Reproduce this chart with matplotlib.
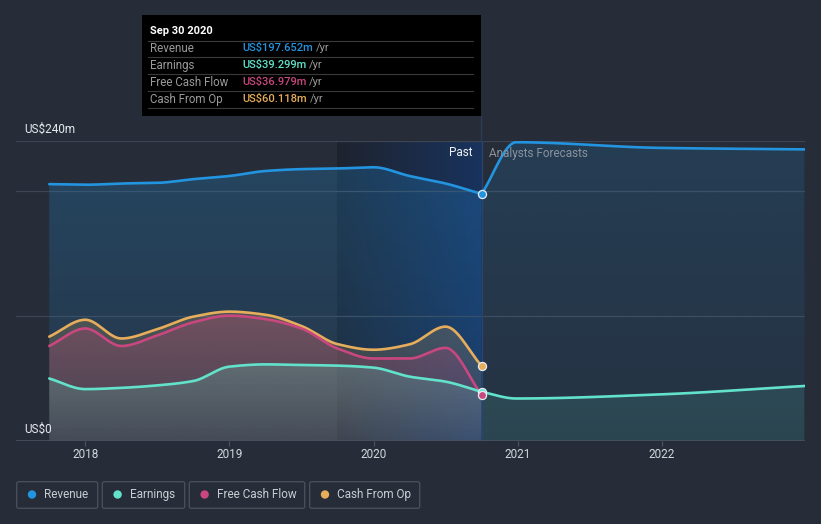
import numpy as np
import matplotlib
matplotlib.use('Agg')
import matplotlib.pyplot as plt
from matplotlib.patches import Polygon, Rectangle, FancyBboxPatch, Ellipse
from matplotlib.lines import Line2D
from matplotlib.colors import to_rgb

plt.rcParams['font.family'] = ['Roboto', 'DejaVu Sans']

# --- data (US$ m, trailing twelve months) ---
past_dates = [2017.75, 2018.0, 2018.25, 2018.5, 2018.75, 2019.0, 2019.25,
              2019.5, 2019.75, 2020.0, 2020.25, 2020.5, 2020.75]
revenue_past = [205.5, 205, 206, 206.5, 209.5, 212, 216, 217.5, 218, 219, 212, 206, 197.652]
earnings_past = [50, 41.5, 42.5, 44.5, 48, 59.5, 61.3, 60.8, 60.3, 58.7, 51.5, 47.5, 39.299]
fcf_past = [76, 90, 76, 84.5, 95, 100.3, 97.5, 90, 74, 66, 66, 74.5, 36.979]
cfo_past = [83.5, 97, 82, 89.5, 99.5, 103.5, 101, 92, 77.5, 73, 77.3, 91.5, 60.118]

forecast_dates = [2020.75, 2020.99, 2021.99, 2022.99]
revenue_fc = [197.652, 239, 234.5, 233.3]
earnings_fc = [39.299, 34, 37.3, 44]

year_ticks = [2018, 2019, 2020, 2021, 2022]

tooltip_title = 'Sep 30 2020'
tooltip_rows = [('Revenue', 'US$197.652m'), ('Earnings', 'US$39.299m'),
                ('Free Cash Flow', 'US$36.979m'), ('Cash From Op', 'US$60.118m')]
legend_names = ['Revenue', 'Earnings', 'Free Cash Flow', 'Cash From Op']

# --- style ---
W, H = 821, 524
BG = '#262c38'
C_REV = '#2394df'
C_EARN = '#62e2cb'
C_FCF = '#c9477f'
C_CFO = '#e6ad5b'
colors = [C_REV, C_EARN, C_FCF, C_CFO]


def fx(px):
    return px / W


def fy(py):
    return 1 - py / H


def monotone(xs, ys, n=40):
    # monotone cubic (Fritsch-Carlson), same look as d3 curveMonotoneX
    x = np.asarray(xs, float)
    y = np.asarray(ys, float)
    h = np.diff(x)
    d = np.diff(y) / h
    m = np.zeros_like(y)
    m[0], m[-1] = d[0], d[-1]
    for i in range(1, len(y) - 1):
        if d[i - 1] * d[i] > 0:
            m[i] = 3 * (h[i - 1] + h[i]) / ((2 * h[i] + h[i - 1]) / d[i - 1] +
                                            (h[i] + 2 * h[i - 1]) / d[i])
    out_x, out_y = [], []
    for i in range(len(x) - 1):
        t = np.linspace(0, 1, n, endpoint=(i == len(x) - 2))
        h00 = 2 * t**3 - 3 * t**2 + 1
        h10 = t**3 - 2 * t**2 + t
        h01 = -2 * t**3 + 3 * t**2
        h11 = t**3 - t**2
        out_x.append(x[i] + t * h[i])
        out_y.append(h00 * y[i] + h10 * h[i] * m[i] + h01 * y[i + 1] + h11 * h[i] * m[i + 1])
    return np.concatenate(out_x), np.concatenate(out_y)


def grad_fill(ax, x, y, color, a_top, a_bot, z):
    verts = np.column_stack([np.r_[x, x[::-1]], np.r_[y, np.zeros_like(y)]])
    poly = Polygon(verts, closed=True, fc='none', ec='none', transform=ax.transData)
    ax.add_patch(poly)
    rgba = np.zeros((256, 1, 4))
    rgba[..., :3] = to_rgb(color)
    rgba[..., 3] = np.linspace(a_bot, a_top, 256)[:, None]
    im = ax.imshow(rgba, extent=[x.min(), x.max(), 0, y.max()], origin='lower',
                   aspect='auto', interpolation='bilinear', zorder=z)
    im.set_clip_path(poly)


fig = plt.figure(figsize=(W / 100, H / 100), dpi=100, facecolor=BG)

x0_px, x1_px = 16, 805
yr_px = 144.1
ax = fig.add_axes([fx(x0_px), fy(441), (x1_px - x0_px) / W, 300 / H])
ax.set_facecolor(BG)
xlim = (2018 + (x0_px - 85.3) / yr_px, 2018 + (x1_px - 85.3) / yr_px)

# past highlight band (last year)
band = np.zeros((1, 256, 4))
left_c = np.array([20, 24, 34]) / 255
right_c = np.array([10, 60, 140]) / 255
tt = np.linspace(0, 1, 256)[:, None]
band[0, :, :3] = left_c * (1 - tt) + right_c * tt
band[0, :, 3] = 0.45
ax.imshow(band, extent=[2019.75, 2020.75, 0, 240], aspect='auto', zorder=1,
          interpolation='bilinear')

# grid
for v in [100, 200, 240]:
    ax.axhline(v, color='#3d4553', lw=0.9, zorder=2)
ax.axhline(0, color='#4a5260', lw=1.2, zorder=8)

# past series
rx, ry = monotone(past_dates, revenue_past)
cx, cy = monotone(past_dates, cfo_past)
px_, py_ = monotone(past_dates, fcf_past)
ex, ey = monotone(past_dates, earnings_past)
grad_fill(ax, rx, ry, C_REV, 0.24, 0.10, 3)
grad_fill(ax, cx, cy, C_CFO, 0.22, 0.08, 3.1)
grad_fill(ax, px_, py_, C_FCF, 0.28, 0.10, 3.2)
grad_fill(ax, ex, ey, C_EARN, 0.22, 0.08, 3.3)

# forecast series
frx, fry = monotone(forecast_dates, revenue_fc)
fex, fey = monotone(forecast_dates, earnings_fc)
grad_fill(ax, frx, fry, C_REV, 0.17, 0.06, 3)
grad_fill(ax, fex, fey, C_EARN, 0.13, 0.11, 3.1)

for (xx, yy, c) in [(rx, ry, C_REV), (cx, cy, C_CFO), (px_, py_, C_FCF), (ex, ey, C_EARN)]:
    ax.plot(xx, yy, color=c, lw=1.9, zorder=5, solid_capstyle='round')
ax.plot(frx, fry, color=C_REV, lw=1.9, zorder=5)
ax.plot(fex, fey, color=C_EARN, lw=1.9, zorder=5)

# divider at the latest actual
ax.axvline(2020.75, color='#27466e', lw=1, zorder=4)
fig.add_artist(Line2D([fx(481), fx(481)], [fy(116), fy(141)], color='#2c3d58', lw=1))

# end markers
ends = [(revenue_past[-1], C_REV), (cfo_past[-1], C_CFO),
        (earnings_past[-1], C_EARN), (fcf_past[-1], C_FCF)]
for val, c in ends:
    ax.scatter([past_dates[-1]], [val], s=34, color=c, edgecolors='#e8eef5',
               linewidths=0.9, zorder=7)

ax.set_xlim(*xlim)
ax.set_ylim(0, 240)
ax.set_xticks(year_ticks)
ax.set_xticklabels([str(y) for y in year_ticks], color='#d4d8de', fontsize=8.5)
ax.tick_params(axis='x', length=3.5, width=0.9, color='#4a5260', pad=1.5)
ax.set_yticks([])
for s in ax.spines.values():
    s.set_visible(False)

# y labels
fig.text(fx(24), fy(129), 'US$240m', color='#e6e9ee', fontsize=8.5, va='center', ha='left')
fig.text(fx(24), fy(429), 'US$0', color='#e6e9ee', fontsize=8.5, va='center', ha='left', zorder=10)

fig.text(fx(472), fy(153), 'Past', color='#f0f2f5', fontsize=8.5, va='center', ha='right')
fig.text(fx(489), fy(153), 'Analysts Forecasts', color='#8a929e', fontsize=8.5, va='center', ha='left')

# tooltip
fig.add_artist(Rectangle((fx(142), fy(116)), (481 - 142) / W, (116 - 15) / H,
                         transform=fig.transFigure, fc='black', ec='none', zorder=20))
fig.text(fx(150), fy(31), tooltip_title, color='white', fontsize=8, fontweight='bold',
         va='center', ha='left', zorder=21)
for ly in [40.5, 57.3, 74.3, 91.3, 108.3]:
    fig.add_artist(Line2D([fx(148), fx(473)], [fy(ly), fy(ly)], color='#3a3a3a',
                          lw=0.8, zorder=21))
renderer = fig.canvas.get_renderer()
for i, (lab, val) in enumerate(tooltip_rows):
    yy = fy(48.3 + 17 * i)
    fig.text(fx(150), yy, lab, color='#9a9a9a', fontsize=8.3, va='center', ha='left', zorder=21)
    t = fig.text(fx(242), yy, val, color=colors[i], fontsize=8, va='center', ha='left',
                 fontweight='medium', zorder=21)
    bb = t.get_window_extent(renderer)
    fig.text(bb.x1 / W + fx(3), yy, '/yr', color='#9a9a9a', fontsize=8, va='center',
             ha='left', zorder=21)

# legend
boxes = [(16.7, 97.7), (102.3, 184.7), (189.3, 304.7), (309.7, 419.7)]
for (bx0, bx1), name, c in zip(boxes, legend_names, colors):
    fig.add_artist(FancyBboxPatch((fx(bx0), fy(508.3)), (bx1 - bx0) / W, 26.6 / H,
                                  boxstyle='round,pad=0,rounding_size=0.003',
                                  transform=fig.transFigure, fc='none', ec='#4b525e', lw=0.9))
    fig.add_artist(Ellipse((fx(bx0 + 15.3), fy(494.5)), 8.4 / W, 8.4 / H,
                           transform=fig.transFigure, fc=c, ec='none'))
    fig.text(fx(bx0 + 27.5), fy(494.5), name, color='#c9cdd3', fontsize=8.5,
             va='center', ha='left')

fig.savefig('out.png', dpi=100, facecolor=BG)
